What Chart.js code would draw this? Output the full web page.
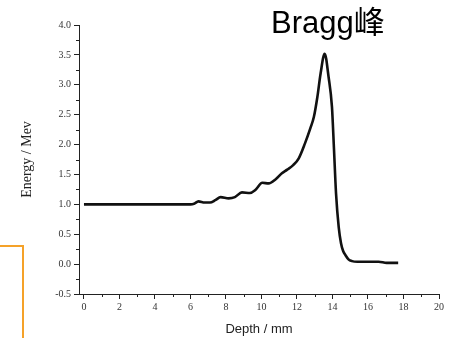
<!DOCTYPE html>
<html lang="zh">
<head>
  <meta charset="UTF-8">
  <title>Bragg峰</title>
  <script src="https://cdn.jsdelivr.net/npm/chart.js"></script>
  <style>
    body {
      margin: 0;
      background: #fff;
      width: 452px;
      height: 338px;
      overflow: hidden;
      position: relative;
    }

    #wrap {
      position: absolute;
      left: 0;
      top: 0;
      width: 452px;
      height: 338px;
    }

    #peakLabel {
      position: absolute;
      left: 271px;
      top: 8px;
      font-family: "Liberation Sans", Arial, "Noto Sans CJK SC", sans-serif;
      font-size: 31px;
      line-height: 30px;
      color: #000;
      white-space: nowrap;
    }

    #frame {
      position: absolute;
      left: -2px;
      top: 245px;
      width: 24px;
      height: 100px;
      border-top: 2px solid #f5a229;
      border-right: 2px solid #f5a229;
    }
  </style>
</head>
<body>
  <div id="frame"></div>
  <div id="wrap"><canvas id="braggChart" width="452" height="338"></canvas></div>
  <div id="peakLabel">Bragg峰</div>

  <script>
    // depth (mm) and deposited energy (MeV) along the beam
    const depth = [0, 6.0, 6.2, 6.45, 6.8, 7.1, 7.4, 7.7, 8.15, 8.5, 8.9, 9.35, 9.65, 10.05, 10.4,
                   10.8, 11.15, 11.45, 11.8, 12.1, 12.45, 12.75, 12.95, 13.15, 13.33, 13.56,
                   13.78, 13.97, 14.08, 14.2, 14.35, 14.48, 14.6, 14.73, 14.9, 15.1, 15.4,
                   15.75, 16.6, 17.05, 17.7];
    const energy = [1.0, 1.0, 1.01, 1.05, 1.03, 1.03, 1.07, 1.12, 1.10, 1.12, 1.20, 1.19, 1.24, 1.36, 1.35,
                    1.42, 1.52, 1.58, 1.66, 1.77, 2.02, 2.27, 2.46, 2.80, 3.19, 3.52,
                    3.13, 2.63, 1.95, 1.18, 0.62, 0.35, 0.22, 0.15, 0.08, 0.05, 0.04,
                    0.04, 0.04, 0.02, 0.02];

    const xTicks = [0, 2, 4, 6, 8, 10, 12, 14, 16, 18, 20];
    const yTicks = [-0.5, 0, 0.5, 1.0, 1.5, 2.0, 2.5, 3.0, 3.5, 4.0];
    const xMinor = [1, 3, 5, 7, 9, 11, 13, 15, 17, 19];
    const yMinor = [-0.25, 0.25, 0.75, 1.25, 1.75, 2.25, 2.75, 3.25, 3.75];

    const axisColor = '#222';
    const tickFont = { family: '"Liberation Serif", "Times New Roman", serif', size: 10 };

    // short minor ticks between the labelled ones
    const minorTicks = {
      id: 'minorTicks',
      afterDraw(chart) {
        const ctx = chart.ctx;
        const xs = chart.scales.x, ys = chart.scales.y;
        ctx.save();
        ctx.strokeStyle = axisColor;
        ctx.lineWidth = 1;
        ctx.beginPath();
        xMinor.forEach(v => {
          const px = Math.round(xs.getPixelForValue(v)) + 0.5;
          ctx.moveTo(px, xs.top);
          ctx.lineTo(px, xs.top + 3);
        });
        yMinor.forEach(v => {
          const py = Math.round(ys.getPixelForValue(v)) + 0.5;
          ctx.moveTo(ys.right, py);
          ctx.lineTo(ys.right - 3, py);
        });
        ctx.stroke();
        ctx.restore();
      }
    };

    new Chart(document.getElementById('braggChart'), {
      type: 'line',
      data: {
        datasets: [{
          data: depth.map((d, i) => ({ x: d, y: energy[i] })),
          borderColor: '#111',
          borderWidth: 2.6,
          pointRadius: 0,
          cubicInterpolationMode: 'monotone',
          fill: false
        }]
      },
      options: {
        responsive: false,
        animation: false,
        layout: { padding: { top: 25, right: 13, left: 0, bottom: 0 } },
        plugins: {
          legend: { display: false },
          tooltip: { enabled: false }
        },
        scales: {
          x: {
            type: 'linear',
            min: -0.28,
            max: 20,
            afterBuildTicks: s => { s.ticks = xTicks.map(v => ({ value: v })); },
            afterFit: s => { s.height = 44; },
            grid: { drawOnChartArea: false, drawTicks: true, tickLength: 5, color: axisColor },
            border: { display: true, color: axisColor, width: 1 },
            ticks: { font: tickFont, color: '#333', padding: 2, maxRotation: 0 },
            title: {
              display: true,
              text: 'Depth / mm',
              font: { family: '"Liberation Sans", Arial, sans-serif', size: 13 },
              color: '#222',
              padding: { top: 0, bottom: 1 }
            }
          },
          y: {
            min: -0.5,
            max: 4.0,
            afterBuildTicks: s => { s.ticks = yTicks.map(v => ({ value: v })); },
            afterFit: s => { s.width = 79; },
            grid: { drawOnChartArea: false, drawTicks: true, tickLength: 5, color: axisColor },
            border: { display: true, color: axisColor, width: 1 },
            ticks: { font: tickFont, color: '#333', padding: 3, callback: v => v.toFixed(1) },
            title: {
              display: true,
              text: 'Energy / Mev',
              font: { family: '"Liberation Serif", "Times New Roman", serif', size: 14 },
              color: '#222',
              padding: { top: 19, bottom: 0 }
            }
          }
        }
      },
      plugins: [minorTicks]
    });
  </script>
</body>
</html>
